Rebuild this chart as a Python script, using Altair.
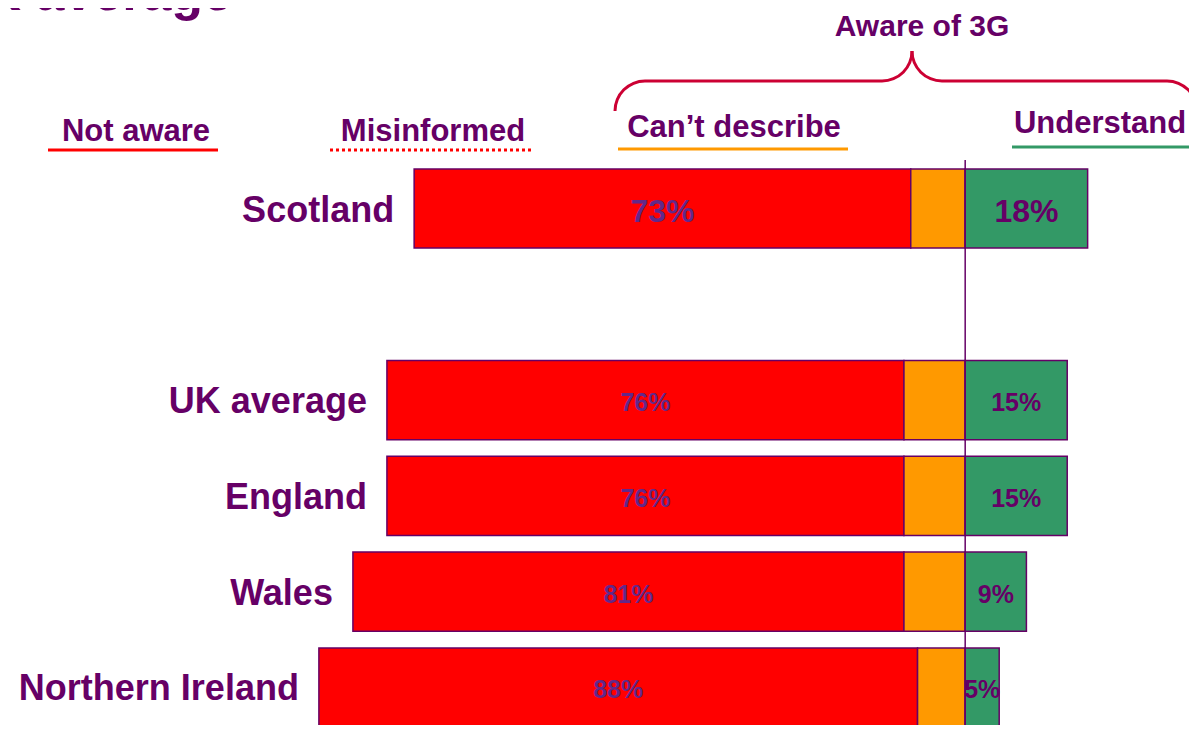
import math
import altair as alt
import pandas as pd

# ---- data ----
regions = ["Scotland", "UK average", "England", "Wales", "Northern Ireland"]
not_aware = [73, 76, 76, 81, 88]
cant_describe = [8, 9, 9, 9, 7]
understand = [18, 15, 15, 9, 5]

slot_order = ["Scotland", "(gap)", "UK average", "England", "Wales", "Northern Ireland"]
segments = ["Not aware", "Can't describe", "Understand"]
seg_colors = ["#FF0000", "#FF9900", "#339966"]

PURPLE = "#660066"
FONT = "Liberation Sans"

rows = []
labels = []
for r, na, cd, u in zip(regions, not_aware, cant_describe, understand):
    rows.append({"region": r, "segment": "Not aware", "start": -(na + cd), "end": -cd})
    rows.append({"region": r, "segment": "Can't describe", "start": -cd, "end": 0})
    rows.append({"region": r, "segment": "Understand", "start": 0, "end": u})
    labels.append({"region": r, "kind": "na", "mid": -(na + cd) + na / 2, "txt": f"{na}%"})
    labels.append({"region": r, "kind": "u", "mid": u / 2, "txt": f"{u}%"})
bars_df = pd.DataFrame(rows)
lab_df = pd.DataFrame(labels)
name_df = pd.DataFrame({"region": regions,
                        "left": [-(na + cd) for na, cd in zip(not_aware, cant_describe)]})

W, H = 1181, 717
xscale = alt.Scale(domain=[-140.7, 32.9], nice=False, zero=False)
yscale = alt.Scale(domain=slot_order, range=[161, 719], paddingInner=0.174, paddingOuter=0)

X = lambda f: alt.X(f, type="quantitative", scale=xscale, axis=None)
Y = alt.Y("region:N", scale=yscale, axis=None)
YC = alt.Y("region:N", scale=yscale, axis=None, bandPosition=0.5)

bars = alt.Chart(bars_df).mark_bar(stroke=PURPLE, strokeWidth=1.5).encode(
    x=X("start"), x2="end", y=Y,
    color=alt.Color("segment:N", scale=alt.Scale(domain=segments, range=seg_colors), legend=None),
)

zero_line = alt.Chart(alt.Data(values=[{"z": 0}])).mark_rule(color=PURPLE, strokeWidth=1.5).encode(
    x=X("z"), y=alt.value(152), y2=alt.value(H)
)

pct_red = alt.Chart(lab_df).transform_filter(alt.datum.kind == "na").mark_text(
    font=FONT, fontWeight="bold", color="#62288a", baseline="middle", align="center", dy=3
).encode(
    x=X("mid"), y=YC, text="txt:N",
    size=alt.condition(alt.datum.region == "Scotland", alt.value(32), alt.value(25)),
)
pct_green = alt.Chart(lab_df).transform_filter(alt.datum.kind == "u").mark_text(
    font=FONT, fontWeight="bold", color=PURPLE, baseline="middle", align="center", dy=3
).encode(
    x=X("mid"), y=YC, text="txt:N",
    size=alt.condition(alt.datum.region == "Scotland", alt.value(32), alt.value(25)),
)

names = alt.Chart(name_df).mark_text(
    font=FONT, fontWeight="bold", color=PURPLE, baseline="middle", align="right", dx=-20, dy=2,
    fontSize=36
).encode(x=X("left"), y=YC, text="region:N")

one = alt.Data(values=[{}])


def txt(s, x, y, size, align="center"):
    return alt.Chart(one).mark_text(
        text=s, font=FONT, fontWeight="bold", color=PURPLE, fontSize=size,
        align=align, baseline="alphabetic"
    ).encode(x=alt.value(x), y=alt.value(y))


def hline(x1, x2, y, color, width=3, dash=None):
    kw = dict(color=color, strokeWidth=width)
    if dash:
        kw["strokeDash"] = dash
    return alt.Chart(one).mark_rule(**kw).encode(x=alt.value(x1), x2=alt.value(x2), y=alt.value(y))


def arc(cx, cy, t1, t2, r=30, color="#CC0033"):
    return alt.Chart(one).mark_arc(
        radius=r + 1.5, radius2=r - 1.5, theta=t1, theta2=t2, color=color
    ).encode(x=alt.value(cx), y=alt.value(cy))


pi = math.pi
annot = [
    txt("UK average", 224, 2, 52, align="right"),
    txt("Not aware", 128, 133, 31),
    txt("Misinformed", 425, 133, 31),
    txt("Can\u2019t describe", 726, 129, 31),
    txt("Understand", 1092, 125, 31),
    txt("Aware of 3G", 914, 28, 30),
    hline(40, 210, 142, "#FF0000"),
    hline(322, 524, 142, "#FF0000", dash=[3, 3]),
    hline(610, 840, 141, "#FF9900"),
    hline(1004, 1189, 139, "#339966"),
    # curly brace over "Aware of 3G"
    arc(637, 103, 3 * pi / 2, 2 * pi),
    hline(637, 874, 73, "#CC0033"),
    arc(874, 43, pi / 2, pi),
    arc(934, 43, pi, 3 * pi / 2),
    hline(934, 1159, 73, "#CC0033"),
    arc(1159, 103, 0, pi / 2),
]

chart = alt.layer(bars, zero_line, pct_red, pct_green, names, *annot).properties(
    width=W, height=H, autosize=alt.AutoSizeParams(type="none"), padding=0
).configure_view(stroke=None)

chart.save("out.html", embed_options={"renderer": "svg", "actions": False})
